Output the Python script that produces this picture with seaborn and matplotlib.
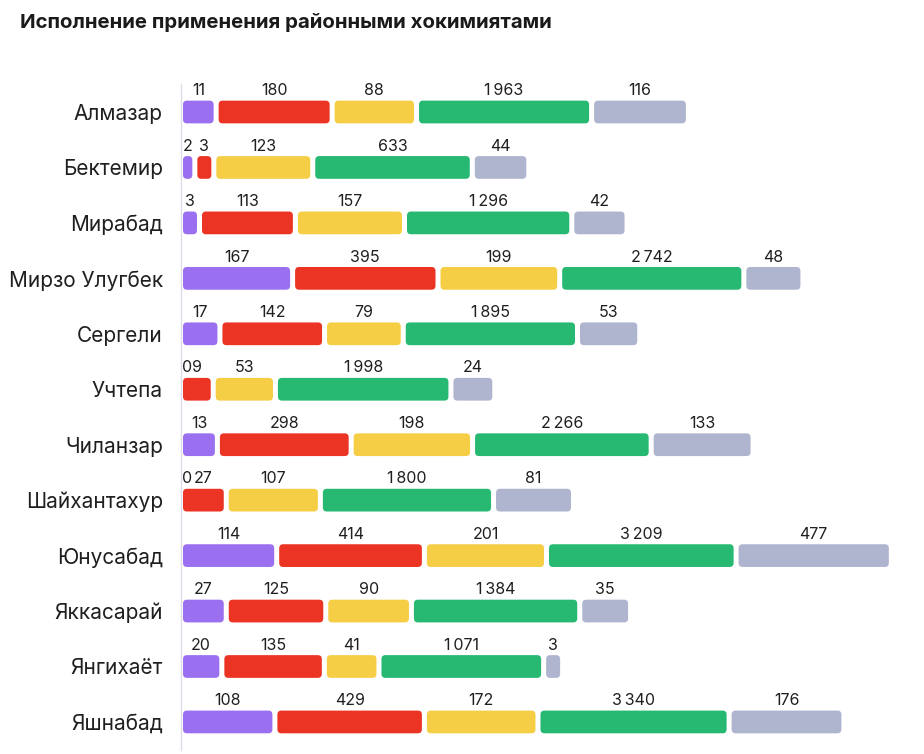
import numpy as np
import pandas as pd
import matplotlib
matplotlib.use("Agg")
import matplotlib.pyplot as plt
from matplotlib.patches import FancyBboxPatch
import seaborn as sns

# Data
districts = ['Алмазар', 'Бектемир', 'Мирабад', 'Мирзо Улугбек', 'Сергели', 'Учтепа',
             'Чиланзар', 'Шайхантахур', 'Юнусабад', 'Яккасарай', 'Янгихаёт', 'Яшнабад']
purple_vals = [11, 2, 3, 167, 17, 0, 13, 0, 114, 27, 20, 108]
red_vals = [180, 3, 113, 395, 142, 9, 298, 27, 414, 125, 135, 429]
yellow_vals = [88, 123, 157, 199, 79, 53, 198, 107, 201, 90, 41, 172]
green_vals = [1963, 633, 1296, 2742, 1895, 1998, 2266, 1800, 3209, 1384, 1071, 3340]
gray_vals = [116, 44, 42, 48, 53, 24, 133, 81, 477, 35, 3, 176]

series = [purple_vals, red_vals, yellow_vals, green_vals, gray_vals]
colors = ['#9b70f0', '#ec3424', '#f5ce46', '#27b872', '#b0b5cf']
title = 'Исполнение применения районными хокимиятами'

# broken (piecewise) scale used by the chart: small numbers stay visible,
# big ones are squeezed
scale_domain = [0, 3, 10, 100, 200, 500, 3500]
scale_range = [0, 14, 30, 87, 117, 153, 188]


def squash(v):
    return np.interp(np.asarray(v, dtype=float), scale_domain, scale_range)


def fmt(v):
    return f'{v:,}'.replace(',', '\u2009')


sns.set_theme(style='white')
plt.rcParams['font.family'] = ['Inter', 'DejaVu Sans']

W, H = 924, 754
fig = plt.figure(figsize=(W / 100, H / 100), dpi=100)
row_px = 55.45
ax_left, ax_w = 181, 733
ax_top = 112 - row_px / 2
ax_h = row_px * len(districts)
ax = fig.add_axes([ax_left / W, 1 - (ax_top + ax_h) / H, ax_w / W, ax_h / H])

gap = 5
bar_h = 0.41
cur = np.zeros(len(districts))
label_pos = []
for vals, col in zip(series, colors):
    vals = np.array(vals)
    w = squash(vals)
    df = pd.DataFrame({'district': districts, 'w': w})
    sns.barplot(data=df, x='w', y='district', orient='h', color=col, width=bar_h,
                left=cur.copy(), saturation=1, linewidth=0, ax=ax)
    for i, v in enumerate(vals):
        if v == 0:
            label_pos.append((cur[i] - 1, i, v, 'left'))
        else:
            label_pos.append((cur[i] + w[i] / 2, i, v, 'center'))
    cur = cur + np.where(vals > 0, w + gap, 0)

ax.set_xlim(-2, ax_w - 2)
ax.set_ylim(len(districts) - 0.5, -0.5)

# rounded corners
aspect = 1.0 / row_px
for rect in list(ax.patches):
    x, y = rect.get_x(), rect.get_y()
    w, h = rect.get_width(), rect.get_height()
    fc = rect.get_facecolor()
    rect.remove()
    if w <= 0:
        continue
    r = min(4.0, w / 2)
    ax.add_patch(FancyBboxPatch((x, y), w, h, boxstyle=f'round,pad=0,rounding_size={r}',
                                mutation_aspect=aspect, facecolor=fc, edgecolor='none'))

for x, i, v, ha in label_pos:
    ax.text(x, i - 0.385, fmt(v), ha=ha, va='center', fontsize=11.5, color='#1f1f1f')

ax.set_xlabel('')
ax.set_ylabel('')
ax.set_xticks([])
ax.tick_params(axis='y', length=0, pad=13, labelsize=15, labelcolor='#1f1f1f')
for s in ['top', 'right', 'bottom']:
    ax.spines[s].set_visible(False)
ax.spines['left'].set_color('#dcdde8')
ax.spines['left'].set_linewidth(1)

fig.text(20 / W, 1 - 23 / H, title, ha='left', va='center', fontsize=14.7,
         fontweight='bold', color='#1a1a1a')

fig.savefig('out.png', dpi=100)
